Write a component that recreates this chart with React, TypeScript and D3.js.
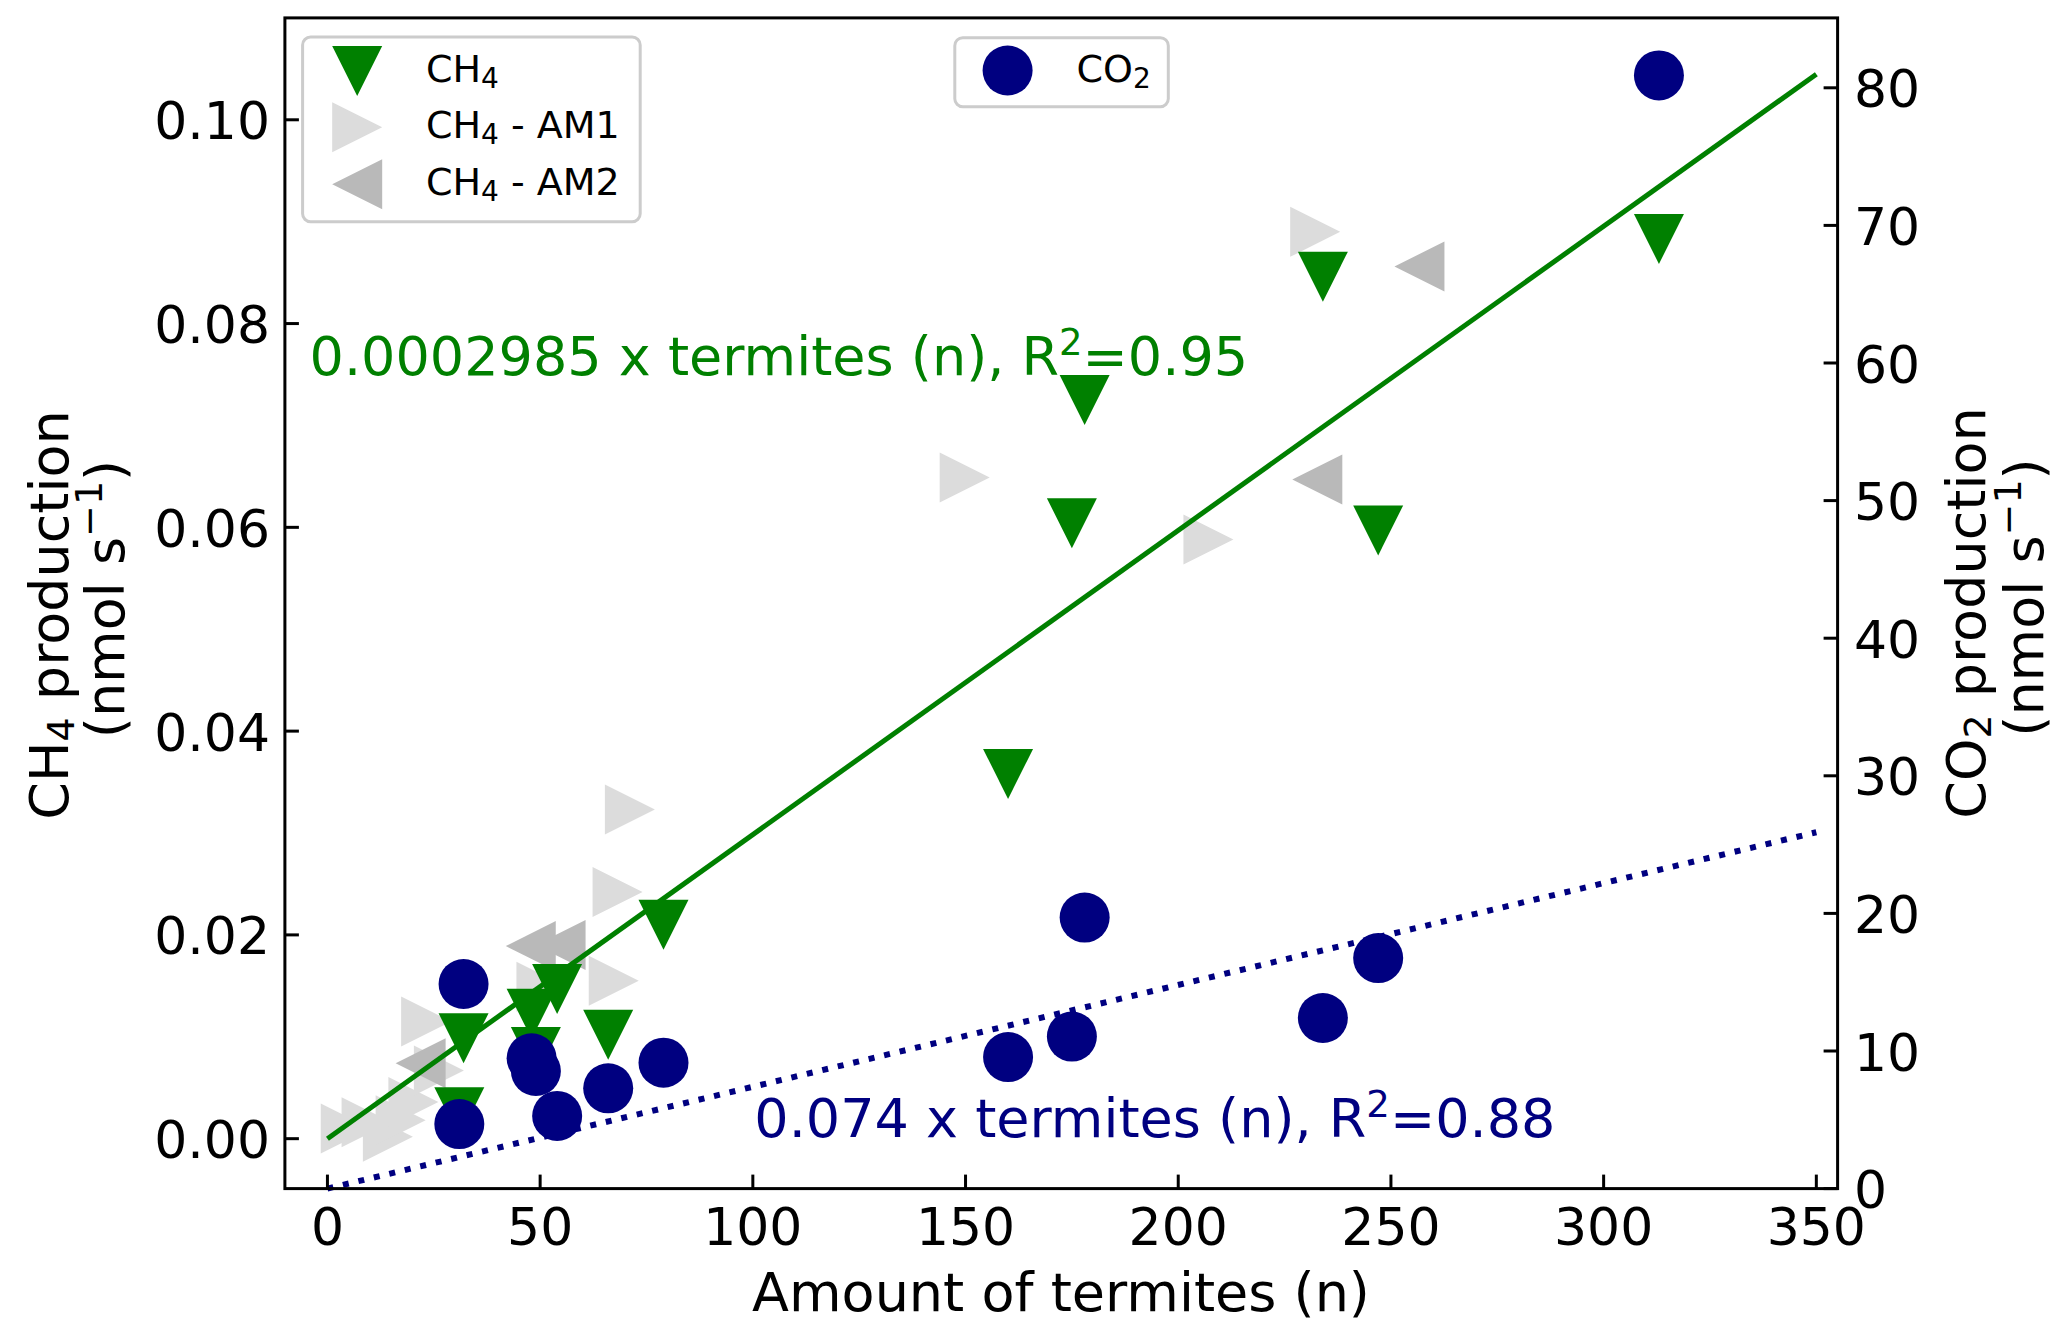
import React from 'react';
import * as d3 from 'd3';

// termites (n) per incubation and measured production
const termites = [31, 32, 48, 49, 54, 66, 79, 160, 175, 178, 234, 247, 313];
const ch4Values = [0.0026, 0.00986, 0.01225, 0.0085, 0.0147, 0.0102, 0.021, 0.0358, 0.0604, 0.0725, 0.0846, 0.0597, 0.0883];
const co2Values = [4.69, 14.87, 9.47, 8.55, 5.28, 7.29, 9.15, 9.56, 11.05, 19.7, 12.4, 16.75, 80.9];

const am1Termites = [4.3, 9.2, 14.2, 17.2, 20.2, 23.2, 26.2, 50.3, 67.3, 68.2, 71.1, 149.8, 207.1, 232.2];
const am1Values = [0.001, 0.0016, 0.0002, 0.0018, 0.0036, 0.0115, 0.0067, 0.0149, 0.0155, 0.0242, 0.0323, 0.0649, 0.0588, 0.089];

const am2Termites = [21.9, 47.8, 54.8, 232.7, 256.7];
const am2Values = [0.0074, 0.0189, 0.019, 0.0647, 0.0856];

const ch4Slope = 0.0002985;
const co2Slope = 0.074;
const fitRange = [0, 350];

const xTicks = [0, 50, 100, 150, 200, 250, 300, 350];
const ch4Ticks = [0, 0.02, 0.04, 0.06, 0.08, 0.1];
const co2Ticks = [0, 10, 20, 30, 40, 50, 60, 70, 80];

const GREEN = '#008000';
const NAVY = '#000080';
const AM1_COLOR = '#dcdcdc';
const AM2_COLOR = '#b9b9b9';
const FONT = '"DejaVu Sans", sans-serif';

const W = 2067;
const H = 1336;
const plot = { left: 284.9, right: 1837.6, top: 17.9, bottom: 1188.6 };
const M = 25; // half marker size

const triDown = `M0,${M} L${-M},${-M} L${M},${-M} Z`;
const triRight = `M${M},0 L${-M},${-M} L${-M},${M} Z`;
const triLeft = `M${-M},0 L${M},${-M} L${M},${M} Z`;

export default function App() {
  const x = d3.scaleLinear().domain([-10, 355]).range([plot.left, plot.right]);
  const yL = d3.scaleLinear().domain([-0.0049, 0.11]).range([plot.bottom, plot.top]);
  const yR = d3.scaleLinear().domain([0, 85.08]).range([plot.bottom, plot.top]);

  const ch4Line = d3.line<number>().x(d => x(d)).y(d => yL(d * ch4Slope));
  const co2Line = d3.line<number>().x(d => x(d)).y(d => yR(d * co2Slope));

  const tickFont = 52;
  const labelFont = 54;

  return (
    <div style={{ position: 'absolute', left: 0, top: 0 }}>
      <svg width={W} height={H} style={{ display: 'block', background: '#fff' }} fontFamily={FONT}>
        <rect width={W} height={H} fill="#fff" />

        {/* CH4 axes content */}
        {am1Termites.map((t, i) => (
          <path key={`a1-${i}`} d={triRight} transform={`translate(${x(t)},${yL(am1Values[i])})`} fill={AM1_COLOR} />
        ))}
        {am2Termites.map((t, i) => (
          <path key={`a2-${i}`} d={triLeft} transform={`translate(${x(t)},${yL(am2Values[i])})`} fill={AM2_COLOR} />
        ))}
        {termites.map((t, i) => (
          <path key={`c4-${i}`} d={triDown} transform={`translate(${x(t)},${yL(ch4Values[i])})`} fill={GREEN} />
        ))}
        <path d={ch4Line(fitRange) || ''} fill="none" stroke={GREEN} strokeWidth={5} />

        <text x={309.6} y={374.5} fontSize={labelFont} fill={GREEN}>
          0.0002985 x termites (n), R<tspan fontSize={37} dy={-20}>2</tspan>
          <tspan dy={20}>=0.95</tspan>
        </text>

        {/* CH4 legend */}
        <rect x={302.6} y={37} width={337.6} height={184.7} rx={8} fill="#fff" fillOpacity={0.8} stroke="#cccccc" strokeWidth={3} />
        {[
          { label: ' - AM1', d: triRight, color: AM1_COLOR, y: 127.3 },
          { label: ' - AM2', d: triLeft, color: AM2_COLOR, y: 184.3 },
          { label: '', d: triDown, color: GREEN, y: 71 },
        ].map(item => (
          <g key={item.label || 'ch4'}>
            <path d={item.d} transform={`translate(357.2,${item.y})`} fill={item.color} />
            <text x={426} y={item.y + 11} fontSize={38} fill="#000">
              CH<tspan fontSize={28} dy={6}>4</tspan>
              <tspan dy={-6}>{item.label}</tspan>
            </text>
          </g>
        ))}

        {/* CO2 axes content */}
        {termites.map((t, i) => (
          <circle key={`co2-${i}`} cx={x(t)} cy={yR(co2Values[i])} r={25} fill={NAVY} />
        ))}
        <path d={co2Line(fitRange) || ''} fill="none" stroke={NAVY} strokeWidth={6} strokeDasharray="6 9.9" />

        <text x={754.3} y={1136.6} fontSize={labelFont} fill={NAVY}>
          0.074 x termites (n), R<tspan fontSize={37} dy={-20}>2</tspan>
          <tspan dy={20}>=0.88</tspan>
        </text>

        {/* CO2 legend */}
        <rect x={954.8} y={37.7} width={213.5} height={69} rx={8} fill="#fff" fillOpacity={0.8} stroke="#cccccc" strokeWidth={3} />
        <circle cx={1007.6} cy={70.5} r={25} fill={NAVY} />
        <text x={1076.5} y={82} fontSize={38} fill="#000">
          CO<tspan fontSize={28} dy={6}>2</tspan>
        </text>

        {/* frame */}
        <rect x={plot.left} y={plot.top} width={plot.right - plot.left} height={plot.bottom - plot.top} fill="none" stroke="#000" strokeWidth={3} />

        {/* x ticks */}
        {xTicks.map(t => (
          <g key={`xt-${t}`}>
            <line x1={x(t)} x2={x(t)} y1={plot.bottom} y2={plot.bottom - 14} stroke="#000" strokeWidth={3} />
            <text x={x(t)} y={plot.bottom + 56} fontSize={tickFont} textAnchor="middle">{t}</text>
          </g>
        ))}
        {/* left ticks */}
        {ch4Ticks.map(t => (
          <g key={`yl-${t}`}>
            <line x1={plot.left} x2={plot.left + 14} y1={yL(t)} y2={yL(t)} stroke="#000" strokeWidth={3} />
            <text x={270} y={yL(t) + 19.5} fontSize={tickFont} textAnchor="end">{t.toFixed(2)}</text>
          </g>
        ))}
        {/* right ticks */}
        {co2Ticks.map(t => (
          <g key={`yr-${t}`}>
            <line x1={plot.right} x2={plot.right - 14} y1={yR(t)} y2={yR(t)} stroke="#000" strokeWidth={3} />
            <text x={1854} y={yR(t) + 19.5} fontSize={tickFont} textAnchor="start">{t}</text>
          </g>
        ))}

        {/* axis labels */}
        <text x={1061} y={1311} fontSize={labelFont} textAnchor="middle">Amount of termites (n)</text>

        <text transform="translate(68,615) rotate(-90)" fontSize={labelFont} textAnchor="middle">
          CH<tspan fontSize={38} dy={6}>4</tspan><tspan dy={-6}> production</tspan>
        </text>
        <text transform="translate(124,599) rotate(-90)" fontSize={labelFont} textAnchor="middle">
          (nmol s<tspan fontSize={38} dy={-22}>−1</tspan><tspan dy={22}>)</tspan>
        </text>

        <text transform="translate(1985,613) rotate(-90)" fontSize={labelFont} textAnchor="middle">
          CO<tspan fontSize={38} dy={6}>2</tspan><tspan dy={-6}> production</tspan>
        </text>
        <text transform="translate(2043,597.5) rotate(-90)" fontSize={labelFont} textAnchor="middle">
          (nmol s<tspan fontSize={38} dy={-22}>−1</tspan><tspan dy={22}>)</tspan>
        </text>
      </svg>
    </div>
  );
}
